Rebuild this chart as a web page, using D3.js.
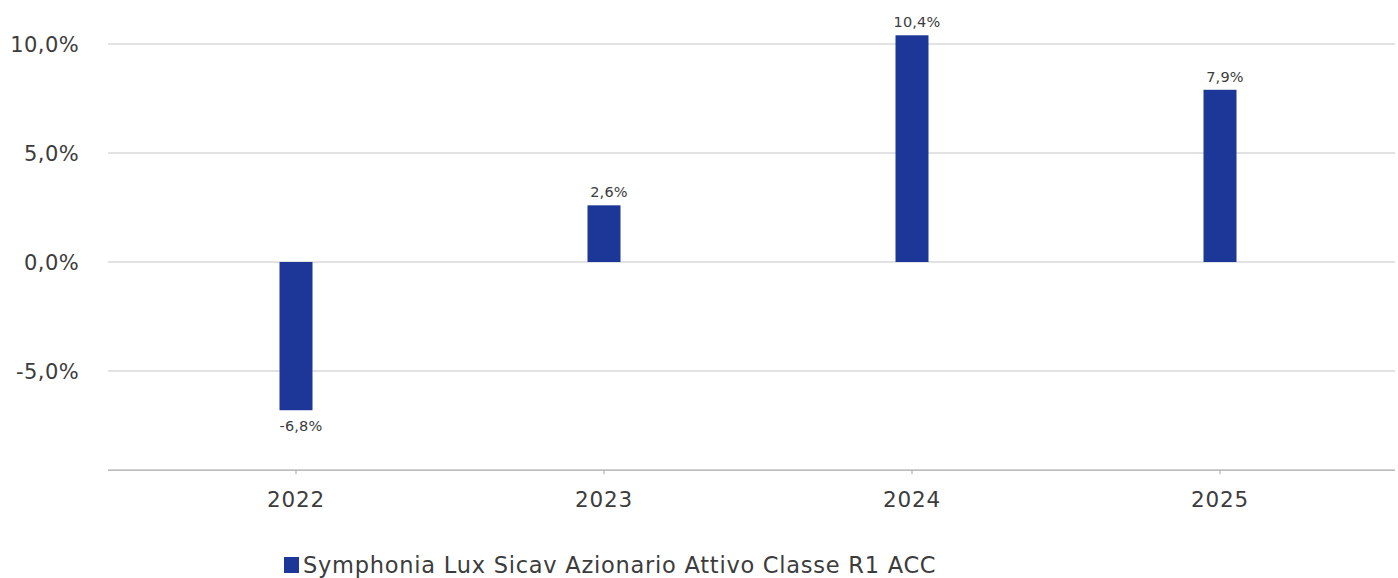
<!DOCTYPE html>
<html><head><meta charset="utf-8">
<script src="https://cdn.jsdelivr.net/npm/d3@7"></script>
<style>body{margin:0;background:#fff;} svg{display:block;font-family:"DejaVu Sans",sans-serif;}</style>
</head><body>
<svg id="c" width="1398" height="578"></svg>
<script>
const categories = ["2022","2023","2024","2025"];
const values = [-6.8, 2.6, 10.4, 7.9];
const valueLabels = ["-6,8%","2,6%","10,4%","7,9%"];
const yTicks = [-5, 0, 5, 10];
const yTickLabels = ["-5,0%","0,0%","5,0%","10,0%"];
const seriesName = "Symphonia Lux Sicav Azionario Attivo Classe R1 ACC";

const svg = d3.select("#c");
const y = d3.scaleLinear().domain([-5, 10]).range([371, 44]);
const yMin = -9.55;
const left = 108, right = 1395;
const textCol = "#3c3c3c";

// gridlines
svg.append("g").selectAll("line").data(yTicks).join("line")
  .attr("x1", left).attr("x2", right)
  .attr("y1", d => y(d)).attr("y2", d => y(d))
  .attr("stroke", "#d9d9d9").attr("stroke-width", 1.3);

// y labels
svg.append("g").selectAll("text").data(yTicks).join("text")
  .attr("x", 79).attr("y", d => y(d)).attr("dy", "0.36em")
  .attr("text-anchor", "end").attr("font-size", 21).attr("letter-spacing", 0.4).attr("fill", textCol)
  .text((d, i) => yTickLabels[i]);

// bars
const band = d3.scaleBand().domain(categories).range([142, 1374]);
const bw = 33;
svg.append("g").selectAll("rect").data(values).join("rect")
  .attr("x", (d, i) => band(categories[i]) + band.bandwidth() / 2 - bw / 2)
  .attr("width", bw)
  .attr("y", d => y(Math.max(0, d)))
  .attr("height", d => Math.abs(y(d) - y(0)))
  .attr("fill", "#1c3797");

// value labels
svg.append("g").selectAll("text").data(values).join("text")
  .attr("x", (d, i) => band(categories[i]) + band.bandwidth() / 2 + 5)
  .attr("y", d => d >= 0 ? y(d) - 8 : y(d) + 21)
  .attr("text-anchor", "middle").attr("font-size", 14.5).attr("letter-spacing", 0.2).attr("fill", textCol)
  .text((d, i) => valueLabels[i]);

// x axis
const ax = svg.append("g");
ax.append("line").attr("x1", left).attr("x2", right).attr("y1", y(yMin)).attr("y2", y(yMin))
  .attr("stroke", "#a6a6a6").attr("stroke-width", 1.3);
ax.selectAll(".tk").data(categories).join("line").attr("class", "tk")
  .attr("x1", d => band(d) + band.bandwidth() / 2).attr("x2", d => band(d) + band.bandwidth() / 2)
  .attr("y1", y(yMin)).attr("y2", y(yMin) + 4).attr("stroke", "#a6a6a6");
ax.selectAll("text").data(categories).join("text")
  .attr("x", d => band(d) + band.bandwidth() / 2).attr("y", y(yMin) + 29)
  .attr("dy", "0.36em").attr("text-anchor", "middle").attr("font-size", 21.5).attr("letter-spacing", 0.8).attr("fill", textCol)
  .text(d => d);

// legend
const lg = svg.append("g");
lg.append("rect").attr("x", 284).attr("y", 557).attr("width", 15).attr("height", 16).attr("fill", "#1c3797");
lg.append("text").attr("x", 303).attr("y", 565).attr("dy", "0.36em").attr("font-size", 22.5).attr("letter-spacing", 0.75).attr("fill", textCol).text(seriesName);
</script>
</body></html>
